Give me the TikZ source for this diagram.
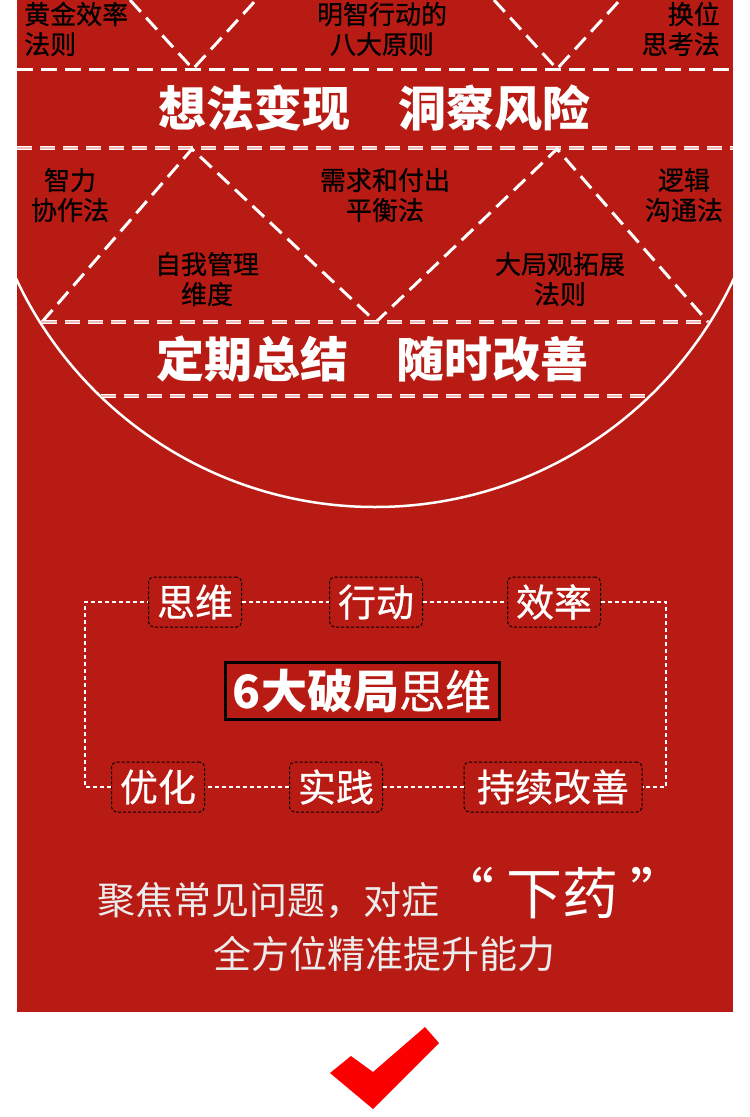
\documentclass[tikz,border=0pt]{standalone}
\usepackage{fontspec}
\setmainfont{Noto Sans CJK SC}
\newfontfamily\lblfont[FakeBold=0.6]{Noto Sans CJK SC}
\usetikzlibrary{positioning}
\definecolor{bgred}{RGB}{184,27,19}
\definecolor{checkred}{RGB}{250,0,0}
\definecolor{pinkline}{RGB}{238,185,180}
\definecolor{softwhite}{RGB}{236,236,236}
\newcommand{\fsz}[2]{\fontsize{#1}{#2}\selectfont}

\begin{document}
\begin{tikzpicture}[x=1pt,y=-1pt,
  wdash/.style={white,line width=3pt,dash pattern=on 16pt off 8pt},
  wdouble/.style={draw=white,line width=1.6pt,double=pinkline,double distance=1.4pt,dash pattern=on 15pt off 8pt},
  lbl/.style={text=black,font=\lblfont\fsz{26}{30},inner sep=0pt},
  banner/.style={text=white,font=\fsz{48}{48}\bfseries,inner sep=0pt},
  stepbox/.style={draw=black,line width=1pt,dash pattern=on 3pt off 2pt,rounded corners=5pt,fill=bgred,
    text=white,font=\lblfont\fsz{38}{38},minimum width=93pt,minimum height=50pt,inner sep=0pt},
  loopline/.style={white,line width=2pt,dash pattern=on 4pt off 3pt}]
\useasboundingbox (0,0) rectangle (750,1117);
\fill[bgred] (17,0) rectangle (733,1012);
\begin{scope}
\clip (17,0) rectangle (733,1012);
\draw[white,line width=2.5pt] (375,111) circle (396pt);
\end{scope}

\draw[wdash] (130,0) -- (193,69) -- (256,0);
\draw[wdash] (494,0) -- (557,69) -- (620,0);
\draw[wdash] (17,69) -- (733,69);
\draw[wdouble] (17,148) -- (733,148);
\draw[wdash] (42,322) -- (192,149) -- (376,322) -- (557,149) -- (708,322);
\draw[wdouble] (42,322) -- (708,322);
\draw[wdouble] (101,396) -- (649,396);

\node[lbl,anchor=west,align=left] (l_gold) at (24,29) {黄金效率\\法则};
\node[lbl,align=center] (l_wise) at (382,29) {明智行动的\\八大原则};
\node[lbl,anchor=east,align=right] (l_swap) at (720,29) {换位\\思考法};
\node[banner] (r_idea) at (374,108) {想法变现\hspace{1em}洞察风险};
\node[lbl,align=center] (l_team) at (70,195) {智力\\协作法};
\node[lbl,align=center] (l_need) at (385,195) {需求和付出\\平衡法};
\node[lbl,align=center] (l_logic) at (684,195) {逻辑\\沟通法};
\node[lbl,align=center] (l_self) at (207,279) {自我管理\\维度};
\node[lbl,align=center] (l_big) at (560,279) {大局观拓展\\法则};
\node[banner] (r_review) at (372,359) {定期总结\hspace{1em}随时改善};

\node[stepbox] (b_siwei) at (195,602) {思维};
\node[stepbox] (b_xingdong) at (376,602) {行动};
\node[stepbox] (b_xiaolv) at (554,602) {效率};
\node[stepbox] (b_youhua) at (158,787) {优化};
\node[stepbox] (b_shijian) at (336,787) {实践};
\node[stepbox,minimum width=178pt] (b_gaishan) at (553,787) {持续改善};
\node[draw=black,line width=3pt,minimum width=274pt,minimum height=57pt,inner sep=0pt,
  text=white,font=\fsz{46}{46}] (core) at (362,691) {\bfseries 6大破局\mdseries\lblfont 思维};
\coordinate (l_x) at (85,0);
\coordinate (r_x) at (666,0);
\draw[loopline] (b_siwei) -- (b_xingdong) -- (b_xiaolv) -- (b_xiaolv -| r_x) |- (b_gaishan)
  -- (b_shijian) -- (b_youhua) -- (b_youhua -| l_x) |- (b_siwei);

\node[text=softwhite,font=\fsz{38}{38},anchor=west,inner sep=0pt] (t_focus) at (97,900) {聚焦常见问题，对症};
\node[text=white,font=\fsz{56}{56},anchor=west,inner sep=0pt] (t_drug) at (438,893) {“\hspace{12pt}下药\hspace{12pt}”};
\node[text=softwhite,font=\fsz{38}{38},inner sep=0pt] (t_ability) at (384,954) {全方位精准提升能力};

\fill[checkred] (330,1073) -- (351,1056) -- (373,1072) -- (425,1027) -- (439,1043) -- (373,1109) -- cycle;
\end{tikzpicture}
\end{document}
